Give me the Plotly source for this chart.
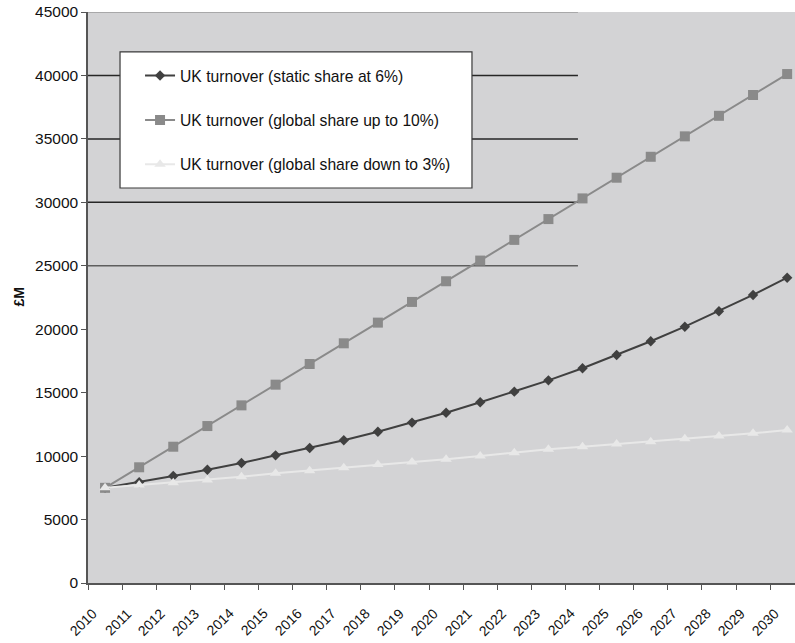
import plotly.graph_objects as go

years = list(range(2010, 2031))
year_labels = [str(y) for y in years]

static_share_6 = [7500, 7940, 8430, 8930, 9460, 10060, 10640, 11250, 11920, 12640,
                  13420, 14240, 15080, 15970, 16920, 17970, 19050, 20200, 21420, 22700, 24060]
global_up_10 = [7500, 9120, 10740, 12370, 14000, 15630, 17260, 18890, 20520, 22150,
                23780, 25410, 27040, 28680, 30310, 31940, 33590, 35200, 36820, 38460, 40110]
global_down_3 = [7500, 7720, 7900, 8120, 8380, 8640, 8850, 9090, 9330, 9540,
                 9750, 10000, 10270, 10540, 10740, 10950, 11130, 11370, 11580, 11800, 12060]

series_names = [
    "UK turnover (static share at 6%)",
    "UK turnover (global share up to 10%)",
    "UK turnover (global share down to 3%)",
]

y_ticks = list(range(0, 45001, 5000))
y_tick_text = [str(v) for v in y_ticks]
grid_levels = [25000, 30000, 35000, 40000, 45000]
grid_colors = ["#5e5e5e", "#262626", "#262626", "#262626", "#9a9a9a"]

# tick marks sit on the boundaries between year slots
year_bounds = [y - 0.5 for y in years] + [years[-1] + 0.5]

FONT = "Liberation Sans, Arial, sans-serif"

fig = go.Figure()

fig.add_trace(go.Scatter(
    x=years, y=static_share_6, name=series_names[0], mode="lines+markers",
    line=dict(color="#404040", width=2),
    marker=dict(symbol="diamond", size=8, color="#404040"),
    legendgroup="a",
))
fig.add_trace(go.Scatter(
    x=years, y=global_up_10, name=series_names[1], mode="lines+markers",
    line=dict(color="#8a8a8a", width=2),
    marker=dict(symbol="square", size=10, color="#8a8a8a"),
    legendgroup="b",
))
fig.add_trace(go.Scatter(
    x=years, y=global_down_3, name=series_names[2], mode="lines+markers",
    line=dict(color="#e8e8e8", width=2),
    marker=dict(symbol="triangle-up", size=10, color="#e8e8e8"),
    legendgroup="c",
))

# partial horizontal gridlines in the upper-left of the plot area
shapes = []
for lvl, col in zip(grid_levels, grid_colors):
    shapes.append(dict(type="line", xref="paper", yref="y",
                       x0=0, x1=0.693, y0=lvl, y1=lvl,
                       line=dict(color=col, width=1.5), layer="below"))

# legend box
shapes.append(dict(type="rect", xref="paper", yref="paper",
                   x0=0.0453, x1=0.5431, y0=0.6918, y1=0.930,
                   fillcolor="white", line=dict(color="#3a3a3a", width=1.2),
                   layer="above"))

# slanted year labels under each slot
annotations = [
    dict(x=yr, y=0, xref="x", yref="paper", text=lbl, showarrow=False,
         textangle=-45, xanchor="right", yanchor="top", xshift=-2, yshift=-20,
         font=dict(family=FONT, size=14, color="#111111"))
    for yr, lbl in zip(years, year_labels)
]
# value-axis title
annotations.append(dict(x=-0.099, y=0.5, xref="paper", yref="paper",
                        text="<b>£M</b>", showarrow=False, textangle=-90,
                        xanchor="center", yanchor="middle",
                        font=dict(family=FONT, size=14, color="#111111")))

fig.update_layout(
    width=795, height=643,
    margin=dict(l=88, r=0, t=12, b=60, autoexpand=False),
    paper_bgcolor="white",
    plot_bgcolor="#d3d3d5",
    font=dict(family=FONT, size=15, color="#111111"),
    shapes=shapes,
    annotations=annotations,
    showlegend=True,
    legend=dict(
        x=0.0736, xanchor="left", y=0.918, yanchor="top",
        bgcolor="rgba(0,0,0,0)", borderwidth=0,
        font=dict(family=FONT, size=15.7, color="#111111"),
        tracegroupgap=21, traceorder="grouped",
    ),
)

fig.update_xaxes(
    type="linear", range=[2009.5, 2030.23],
    tickmode="array", tickvals=year_bounds, ticks="outside",
    ticklen=5, tickcolor="#555555", tickwidth=1.2,
    showticklabels=False,
    showline=True, linecolor="#555555", linewidth=1.5,
    showgrid=False, zeroline=False, automargin=False,
)
fig.update_yaxes(
    range=[0, 45000], tickmode="array", tickvals=y_ticks, ticktext=y_tick_text,
    ticks="outside", ticklen=5, tickcolor="#555555", tickwidth=1.2,
    showline=True, linecolor="#555555", linewidth=1.5,
    showgrid=False, zeroline=False, automargin=False,
    tickfont=dict(family=FONT, size=15.5, color="#111111"),
)

fig.write_html("out.html")
